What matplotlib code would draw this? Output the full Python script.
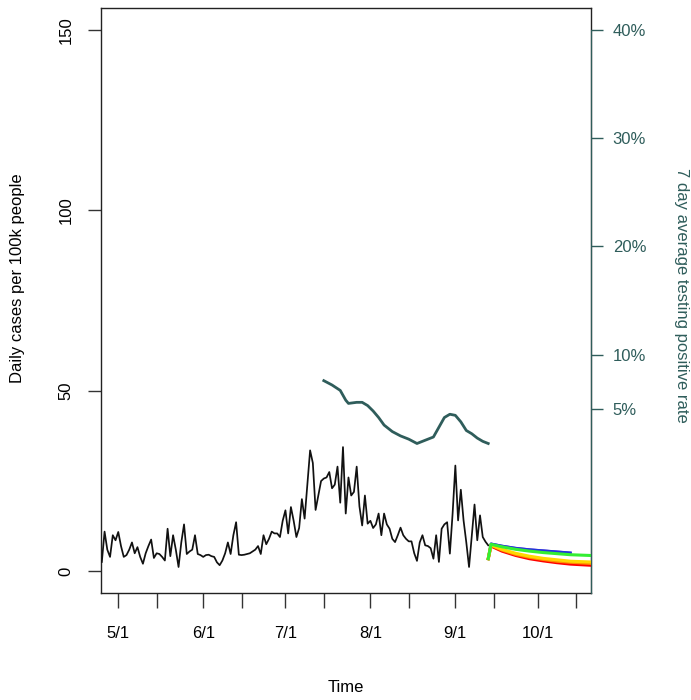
import matplotlib
matplotlib.use("Agg")
import matplotlib.pyplot as plt
import pandas as pd

plt.rcParams["font.family"] = ["Liberation Sans", "DejaVu Sans"]

# daily cases per 100k, starting 2020-04-25
cases_start = "2020-04-25"
cases = [
    2.6, 11, 6, 4, 10, 8.6, 10.9, 7, 4, 4.5,
    6, 8, 5, 6.7, 4, 2.1, 5, 7, 8.8, 3.7,
    5, 4.8, 4, 3, 11.8, 4.2, 10, 6, 1.2, 8,
    13, 4.8, 5.5, 6, 10, 4.8, 4.5, 4, 4.5, 4.6,
    4.2, 4, 2.5, 1.7, 3, 5, 8, 4.8, 10, 13.6,
    4.6, 4.5, 4.6, 4.8, 5, 5.5, 6, 7, 4.8, 10,
    7.5, 9, 11, 10.5, 10.5, 9.5, 14, 16.9, 10.5, 17.8,
    14, 9.5, 12, 20, 14.6, 24, 33.5, 30, 17, 21,
    25, 25.7, 26, 27.5, 23, 24, 29, 19, 34.4, 16,
    26, 21, 22, 29, 18, 12.7, 21, 13.2, 14, 12,
    13, 16, 10, 16, 13, 11.8, 9, 8.1, 10, 12.1,
    10, 9, 8.3, 8.3, 5, 2.9, 8, 10, 7.2, 7,
    6.4, 3.5, 10, 2.6, 11.8, 13, 13.6, 4.9, 16, 29.3,
    14.1, 22.6, 14.1, 8, 1.2, 10, 18.5, 8.6, 15.5, 9.5,
    8.2, 7.2,
]

# 7 day average testing positive rate (%)
rate_dates = [
    "2020-07-15", "2020-07-18", "2020-07-21", "2020-07-23", "2020-07-24",
    "2020-07-27", "2020-07-29", "2020-07-31", "2020-08-02", "2020-08-04",
    "2020-08-06", "2020-08-09", "2020-08-12", "2020-08-15", "2020-08-18",
    "2020-08-21", "2020-08-24", "2020-08-26", "2020-08-28", "2020-08-30",
    "2020-09-01", "2020-09-03", "2020-09-05", "2020-09-07", "2020-09-09",
    "2020-09-11", "2020-09-13",
]
rate = [
    7.6, 7.2, 6.7, 5.8, 5.5, 5.6, 5.6, 5.3, 4.8, 4.2,
    3.5, 2.9, 2.5, 2.2, 1.8, 2.1, 2.4, 3.3, 4.2, 4.5,
    4.4, 3.8, 3.0, 2.7, 2.3, 2.0, 1.8,
]

# forecast scenarios
fc_dates = ["2020-09-13", "2020-09-14", "2020-09-18", "2020-09-23", "2020-09-28",
            "2020-10-03", "2020-10-08", "2020-10-13", "2020-10-20"]
fc_purple = [3.5, 7.7, 7.1, 6.5, 6.1, 5.8, 5.5, 5.2]
fc_blue = [3.5, 7.6, 7.0, 6.4, 6.0, 5.7, 5.4, 5.1]
fc_red = [3.5, 7.0, 5.6, 4.4, 3.5, 2.9, 2.4, 2.0, 1.7]
fc_orange = [3.5, 7.2, 5.9, 4.7, 3.9, 3.3, 2.8, 2.5, 2.2]
fc_yellow = [3.5, 7.3, 6.1, 5.0, 4.2, 3.6, 3.2, 2.8, 2.6]
fc_green = [3.5, 7.5, 6.8, 6.1, 5.6, 5.2, 4.9, 4.6, 4.4]

tick_dates = ["2020-05-01", "2020-05-15", "2020-06-01", "2020-06-15", "2020-07-01",
              "2020-07-15", "2020-08-01", "2020-08-15", "2020-09-01", "2020-09-15",
              "2020-10-01", "2020-10-15"]
tick_labels = ["5/1", "", "6/1", "", "7/1", "", "8/1", "", "9/1", "", "10/1", ""]
rate_ticks = [5, 10, 20, 30, 40]

teal = "#2F5D5B"

fig = plt.figure(figsize=(6.91, 7.0), dpi=100)
ax = fig.add_axes([101 / 691, 107 / 700, 490 / 691, 585 / 700])

x_cases = pd.date_range(cases_start, periods=len(cases))
ax.plot(x_cases, cases, color="#111111", lw=1.25, zorder=3)

fc_x = pd.to_datetime(fc_dates)
for vals, col, lw in [(fc_purple, "#7040D0", 1.4), (fc_blue, "#2233DD", 2.0),
                      (fc_red, "#FF0000", 2.2), (fc_orange, "#FF8C00", 2.2),
                      (fc_yellow, "#FFD700", 2.2), (fc_green, "#33EE33", 2.2)]:
    ax.plot(fc_x[:len(vals)], vals, color=col, lw=lw, zorder=4)

x0 = pd.Timestamp("2020-05-01")
ax.set_xlim(x0 - pd.Timedelta(days=6.3), x0 + pd.Timedelta(days=172.5))
ax.set_ylim(-6, 156)
ax.set_yticks([0, 50, 100, 150])
ax.set_yticklabels(["0", "50", "100", "150"], rotation=90, va="center")
ax.set_xticks(pd.to_datetime(tick_dates))
ax.set_xticklabels(tick_labels)
ax.tick_params(axis="y", length=9.4, width=1, pad=10.5, labelsize=12, color="#333333")
ax.tick_params(axis="x", length=10.8, width=1, pad=13, labelsize=12, color="#333333")
for s in ax.spines.values():
    s.set_linewidth(1.0)
    s.set_color("#222222")

ax2 = ax.twinx()
lo, hi = ax.get_ylim()
ax2.set_ylim((lo - 30) / 3, (hi - 30) / 3)
ax2.plot(pd.to_datetime(rate_dates), rate, color=teal, lw=2.0)
ax2.set_yticks(rate_ticks)
ax2.set_yticklabels([f"{t}%" for t in rate_ticks])
ax2.tick_params(axis="y", length=8.6, width=1, pad=7, labelsize=12,
                color=teal, labelcolor=teal)
for k in ["left", "top", "bottom"]:
    ax2.spines[k].set_visible(False)
ax2.spines["right"].set_color(teal)
ax2.spines["right"].set_bounds(ax2.get_ylim()[0], 40)

fig.text(18 / 691, 1 - 278 / 700, "Daily cases per 100k people", rotation=90,
         ha="center", va="center", fontsize=12)
fig.text(681 / 691, 1 - 295 / 700, "7 day average testing positive rate", rotation=270,
         ha="center", va="center", fontsize=12, color=teal)
fig.text(346 / 691, 1 - 688 / 700, "Time", ha="center", va="center", fontsize=12)

fig.savefig("out.png", dpi=100)
